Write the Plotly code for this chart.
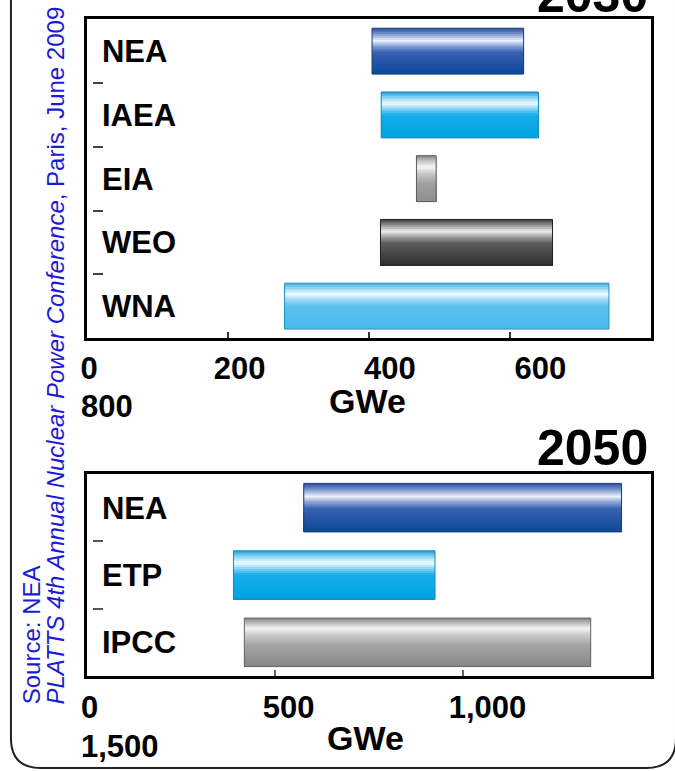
import plotly.graph_objects as go

# ---------------- data ----------------
cats_2030 = ["NEA", "IAEA", "EIA", "WEO", "WNA"]
low_2030 = [404, 417, 467, 416, 280]
high_2030 = [619, 640, 495, 660, 740]
ticks_2030 = [0, 200, 400, 600, 800]
ticktext_2030 = ["0", "200", "400", "600", "800"]

cats_2050 = ["NEA", "ETP", "IPCC"]
low_2050 = [576, 389, 418]
high_2050 = [1421, 925, 1339]
ticks_2050 = [0, 500, 1000, 1500]
ticktext_2050 = ["0", "500", "1,000", "1,500"]

style_2030 = ["darkblue", "cyan", "lightgray", "darkgray", "lightcyan"]
style_2050 = ["darkblue", "cyan", "gray"]

# ---------------- styling ----------------
W, H = 675, 771
FONT = "Liberation Sans, Arial, Helvetica, sans-serif"
BLUE_TXT = "#1c1cd4"

profiles = {
    "darkblue": [(0, "#2b4f9c"), (0.10, "#6684c6"), (0.27, "#eef2fa"), (0.38, "#8ea6d8"),
                 (0.52, "#3a62b4"), (1.0, "#0a4898")],
    "cyan": [(0, "#1e9fd8"), (0.10, "#74ccf0"), (0.25, "#f6fcfe"), (0.36, "#8ad6f5"),
             (0.50, "#16aeea"), (1.0, "#00a2e2")],
    "lightcyan": [(0, "#3fb0e0"), (0.10, "#8ad3f2"), (0.24, "#f6fbfe"), (0.35, "#a3dcf6"),
                  (0.50, "#5ac1ef"), (1.0, "#4bb9ee")],
    "lightgray": [(0, "#808080"), (0.10, "#bdbdbd"), (0.25, "#f8f8f8"), (0.38, "#c8c8c8"),
                  (0.6, "#a0a0a0"), (1.0, "#8e8e8e")],
    "darkgray": [(0, "#3a3a3a"), (0.10, "#808080"), (0.26, "#efefef"), (0.37, "#a5a5a5"),
                 (0.52, "#5c5c5c"), (1.0, "#2e2e2e")],
    "gray": [(0, "#7d7d7d"), (0.09, "#b8b8b8"), (0.21, "#f6f6f6"), (0.33, "#cfcfcf"),
             (0.55, "#a6a6a6"), (1.0, "#868686")],
}
outline = {"darkblue": "#1d3c7a", "cyan": "#1a88b8", "lightcyan": "#2a8fc0",
           "lightgray": "#5a5a5a", "darkgray": "#222222", "gray": "#666666"}


def hex2rgb(h):
    h = h.lstrip("#")
    return tuple(int(h[i:i + 2], 16) for i in (0, 2, 4))


def grad(name, f):
    stops = profiles[name]
    for (p0, c0), (p1, c1) in zip(stops[:-1], stops[1:]):
        if p0 <= f <= p1:
            t = (f - p0) / (p1 - p0) if p1 > p0 else 0
            a, b = hex2rgb(c0), hex2rgb(c1)
            return "rgb(%d,%d,%d)" % tuple(round(a[i] + (b[i] - a[i]) * t) for i in range(3))
    return stops[-1][1]


def px_x(px):
    return px / W


def px_y(py):
    return 1 - py / H


fig = go.Figure()

NSL = 24
BW = 0.72


def add_bars(cats, lows, highs, styles, xa, ya):
    span = [h - l for l, h in zip(lows, highs)]
    for s in range(NSL):
        f0 = s / NSL
        fm = (s + 0.5) / NSL
        fig.add_trace(go.Bar(
            orientation="h", y=cats, x=span, base=lows,
            width=BW * (1 - f0), offset=-BW / 2 + f0 * BW,
            marker=dict(color=[grad(st, fm) for st in styles], line=dict(width=0)),
            xaxis=xa, yaxis=ya, showlegend=False, hoverinfo="skip"))
    fig.add_trace(go.Bar(
        orientation="h", y=cats, x=span, base=lows, width=BW, offset=-BW / 2,
        marker=dict(color="rgba(0,0,0,0)",
                    line=dict(width=1, color=[outline[st] for st in styles])),
        xaxis=xa, yaxis=ya, showlegend=False,
        hovertemplate="%{y}: %{base}–%{x}<extra></extra>"))


add_bars(cats_2030, low_2030, high_2030, style_2030, "x", "y")
add_bars(cats_2050, low_2050, high_2050, style_2050, "x2", "y2")

# helper invisible traces so the overlay axes (tick labels / boundary dashes) exist
fig.add_trace(go.Scatter(x=low_2030, y=list(range(len(cats_2030))), xaxis="x3", yaxis="y3",
                         mode="markers", marker=dict(opacity=0), showlegend=False,
                         hoverinfo="skip"))
fig.add_trace(go.Scatter(x=low_2050, y=list(range(len(cats_2050))), xaxis="x4", yaxis="y4",
                         mode="markers", marker=dict(opacity=0), showlegend=False,
                         hoverinfo="skip"))

xdom = [px_x(81), px_x(651)]
ydom_top = [px_y(338), px_y(19.3)]
ydom_bot = [px_y(676), px_y(474)]

frame = dict(showline=True, mirror=True, linewidth=3, linecolor="black",
             showgrid=False, zeroline=False)
catfont = dict(family=FONT, size=31, color="black", weight="bold")
tickfont = dict(family=FONT, size=31, color="black", weight="bold")

fig.update_layout(
    width=W, height=H, margin=dict(l=0, r=0, t=0, b=0),
    paper_bgcolor="white", plot_bgcolor="white", barmode="overlay", showlegend=False,
    xaxis=dict(domain=xdom, range=[ticks_2030[0], ticks_2030[-1]], anchor="y",
               ticks="inside", ticklen=6, tickwidth=1.5, tickcolor="#333",
               tickvals=ticks_2030[1:-1], showticklabels=False, **frame),
    yaxis=dict(domain=ydom_top, type="category", range=[len(cats_2030) - 0.5, -0.5],
               anchor="x", ticks="", ticklabelposition="inside", ticklabelstandoff=18,
               tickfont=catfont, **frame),
    xaxis3=dict(overlaying="x", anchor="y3", side="bottom",
                range=[-2.63, 747.4], tickvals=ticks_2030[:-1], ticktext=ticktext_2030[:-1],
                tickfont=tickfont, ticklabelstandoff=9,
                showline=False, showgrid=False, zeroline=False, ticks=""),
    yaxis3=dict(overlaying="y", anchor="free", position=px_x(86), side="left",
                range=[len(cats_2030) - 0.5, -0.5],
                tickvals=[i + 0.5 for i in range(len(cats_2030) - 1)],
                ticks="inside", ticklen=10, tickwidth=2, tickcolor="#444",
                showticklabels=False, showgrid=False, zeroline=False, showline=False),
    xaxis2=dict(domain=xdom, range=[ticks_2050[0], ticks_2050[-1]], anchor="y2",
                ticks="inside", ticklen=6, tickwidth=1.5, tickcolor="#666",
                tickvals=ticks_2050[1:-1], showticklabels=False, **frame),
    yaxis2=dict(domain=ydom_bot, type="category", range=[len(cats_2050) - 0.5, -0.5],
                anchor="x2", ticks="", ticklabelposition="inside", ticklabelstandoff=18,
                tickfont=catfont, **frame),
    xaxis4=dict(overlaying="x2", anchor="y4", side="bottom",
                range=[-6.2, 1411.7], tickvals=ticks_2050[:-1], ticktext=ticktext_2050[:-1],
                tickfont=tickfont, ticklabelstandoff=10,
                showline=False, showgrid=False, zeroline=False, ticks=""),
    yaxis4=dict(overlaying="y2", anchor="free", position=px_x(86), side="left",
                range=[len(cats_2050) - 0.5, -0.5],
                tickvals=[i + 0.5 for i in range(len(cats_2050) - 1)],
                ticks="inside", ticklen=10, tickwidth=2, tickcolor="#555",
                showticklabels=False, showgrid=False, zeroline=False, showline=False),
)

ann = []
# wrapped last tick labels
ann.append(dict(text=ticktext_2030[-1], x=px_x(73), y=px_y(387), xanchor="left", yanchor="top",
                font=tickfont))
ann.append(dict(text=ticktext_2050[-1], x=px_x(73), y=px_y(727), xanchor="left", yanchor="top",
                font=tickfont))
# axis titles
gwe_font = dict(family=FONT, size=34, color="black", weight="bold")
ann.append(dict(text="GWe", x=px_x(364), y=px_y(379.5), xanchor="center", yanchor="top",
                font=gwe_font))
ann.append(dict(text="GWe", x=px_x(362), y=px_y(716.5), xanchor="center", yanchor="top",
                font=gwe_font))
# year titles
yr_font = dict(family=FONT, size=50, color="black", weight="bold")
ann.append(dict(text="2030", x=px_x(650), y=px_y(-34.5), xanchor="right", yanchor="top",
                font=yr_font))
ann.append(dict(text="2050", x=px_x(650), y=px_y(418), xanchor="right", yanchor="top",
                font=yr_font))
# source text
src_font = dict(family=FONT, size=24, color=BLUE_TXT)
ann.append(dict(text="Source: NEA", textangle=-90, x=px_x(25), y=px_y(706),
                xanchor="center", yanchor="bottom", font=src_font))
ann.append(dict(text="<i>PLATTS 4th Annual Nuclear Power Conference</i>, Paris, June 2009",
                textangle=-90, x=px_x(49), y=px_y(706),
                xanchor="center", yanchor="bottom", font=src_font))
for a in ann:
    a.update(xref="paper", yref="paper", showarrow=False)
fig.update_layout(annotations=ann)

# rounded frame around slide
path = ("M {x0} {y0} L {x0} {y1} Q {x0} {yb} {x2} {yb} L {x3} {yb} Q {xr} {yb} {xr} {y1} L {xr} {y0}"
        .format(x0=px_x(4), y0=px_y(-5), y1=px_y(738), yb=px_y(768), x2=px_x(34),
                x3=px_x(646), xr=px_x(676)))
fig.add_shape(type="path", path=path, xref="paper", yref="paper",
              line=dict(color="#222", width=2), layer="above")

fig.write_html("out.html", config={"displayModeBar": False},
               post_script="document.body.style.margin='0px';"
                           "document.body.style.overflow='hidden';")
